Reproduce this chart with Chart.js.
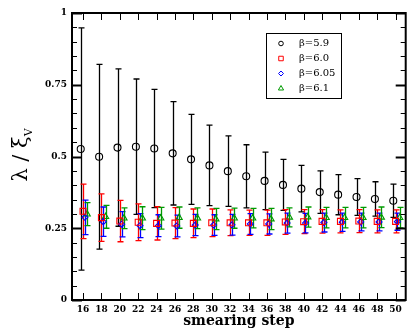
<!DOCTYPE html>
<html><head><meta charset="utf-8">
<script src="https://cdn.jsdelivr.net/npm/chart.js@4/dist/chart.umd.min.js"></script>
<style>html,body{margin:0;padding:0;background:#fff}</style>
</head><body>
<canvas id="c" width="411" height="330"></canvas>
<script>
// ---- data ----
const steps = [16,18,20,22,24,26,28,30,32,34,36,38,40,42,44,46,48,50];
const yTicks = [0,0.25,0.5,0.75,1];
const b59  = [0.526,0.499,0.531,0.534,0.528,0.511,0.490,0.469,0.449,0.431,0.415,0.401,0.388,0.376,0.367,0.359,0.352,0.346];
const e59  = [0.422,0.322,0.274,0.236,0.206,0.180,0.157,0.140,0.123,0.110,0.100,0.089,0.081,0.074,0.070,0.064,0.060,0.058];
const b60  = [0.309,0.287,0.275,0.271,0.267,0.268,0.267,0.269,0.269,0.269,0.269,0.272,0.273,0.274,0.274,0.275,0.274,0.274];
const e60  = [0.095,0.083,0.072,0.064,0.058,0.054,0.050,0.048,0.045,0.044,0.044,0.043,0.042,0.041,0.040,0.040,0.040,0.040];
const b605 = [0.288,0.273,0.264,0.259,0.259,0.258,0.261,0.261,0.262,0.265,0.265,0.268,0.268,0.270,0.271,0.272,0.272,0.273];
const e605 = [0.060,0.051,0.044,0.042,0.038,0.038,0.037,0.036,0.036,0.036,0.035,0.035,0.034,0.033,0.032,0.031,0.031,0.030];
const b61  = [0.299,0.290,0.285,0.285,0.285,0.287,0.285,0.282,0.285,0.285,0.282,0.288,0.289,0.287,0.287,0.287,0.288,0.287];
const e61  = [0.040,0.040,0.036,0.040,0.038,0.037,0.036,0.037,0.035,0.034,0.037,0.033,0.035,0.036,0.036,0.036,0.036,0.036];
const labels = ['\u03b2=5.9','\u03b2=6.0','\u03b2=6.05','\u03b2=6.1'];

function series(vals, errs, shift){ return vals.map((v,i)=>({x:steps[i]+shift, y:v, e:errs[i]})); }

const SERIF = "'DejaVu Serif', 'Liberation Serif', serif";

const errorBars = {
  id:'errorBars',
  beforeDatasetsDraw(chart){
    const {ctx, scales:{x,y}} = chart;
    chart.data.datasets.forEach(ds=>{
      ctx.save(); ctx.strokeStyle = ds.borderColor; ctx.lineWidth = 1.3;
      ds.data.forEach(p=>{
        const px = Math.round(x.getPixelForValue(p.x))+0.5;
        const yt = y.getPixelForValue(p.y+p.e), yb = y.getPixelForValue(p.y-p.e);
        ctx.beginPath();
        ctx.moveTo(px,yt); ctx.lineTo(px,yb);
        ctx.moveTo(px-3,yt); ctx.lineTo(px+3,yt);
        ctx.moveTo(px-3,yb); ctx.lineTo(px+3,yb);
        ctx.stroke();
      });
      ctx.restore();
    });
  }
};

const frame = {
  id:'frame',
  afterDraw(chart){
    const {ctx, chartArea:a, scales:{x,y}} = chart;
    ctx.save();
    ctx.strokeStyle='#000'; ctx.lineWidth=1;
    const seg=(x1,y1,x2,y2)=>{ctx.beginPath();ctx.moveTo(x1,y1);ctx.lineTo(x2,y2);ctx.stroke();};
    steps.forEach(s=>{
      const px=Math.round(x.getPixelForValue(s))+0.5;
      seg(px,a.bottom,px,a.bottom-7); seg(px,a.top,px,a.top+7);
    });
    for(let k=0;k<=20;k++){
      const v=k*0.05, py=Math.round(y.getPixelForValue(v))+0.5;
      const major = k%5===0;
      ctx.lineWidth = major?2:1;
      const L = major?10:5;
      seg(a.left,py,a.left+L,py); seg(a.right,py,a.right-L,py);
    }
    ctx.lineWidth=2;
    ctx.strokeRect(a.left,a.top,a.right-a.left,a.bottom-a.top);
    // y axis title
    ctx.fillStyle='#000';
    ctx.translate(27,155); ctx.rotate(-Math.PI/2);
    ctx.font="21px "+SERIF;
    const main='\u03bb / \u03be';
    const w=ctx.measureText(main).width;
    ctx.font="11px "+SERIF;
    const ws=ctx.measureText('V').width;
    const x0=-(w+ws)/2;
    ctx.textBaseline='alphabetic'; ctx.textAlign='left';
    ctx.font="21px "+SERIF; ctx.fillText(main,x0,0);
    ctx.font="11px "+SERIF; ctx.fillText('V',x0+w,5);
    ctx.restore();
  }
};

const legendBox = {
  id:'legendBox',
  afterDraw(chart){
    const {ctx}=chart;
    ctx.save();
    ctx.fillStyle='#fff'; ctx.fillRect(266,33,76,66);
    ctx.strokeStyle='#000'; ctx.lineWidth=1; ctx.strokeRect(266.5,33.5,75,65);
    chart.data.datasets.forEach((ds,i)=>{
      const yy=43.5+i*15;
      ctx.save();
      ctx.strokeStyle=ds.borderColor; ctx.lineWidth=1; ctx.fillStyle='rgba(0,0,0,0)';
      Chart.helpers.drawPoint(ctx,{pointStyle:ds.pointStyle,radius:ds.legendRadius,borderWidth:1},281,yy);
      ctx.restore();
      ctx.fillStyle='#000'; ctx.font="10px "+SERIF; ctx.textBaseline='middle'; ctx.textAlign='left';
      ctx.fillText(ds.label,299,yy);
    });
    ctx.restore();
  }
};

const mk = (label,data,color,style,r,lr)=>({label,data,borderColor:color,backgroundColor:'rgba(0,0,0,0)',
  pointStyle:style,pointRadius:r,pointHoverRadius:r,pointBorderWidth:1.1,showLine:false,legendRadius:lr});

new Chart(document.getElementById('c'),{
  type:'scatter',
  data:{datasets:[
    mk(labels[0],series(b59,e59,-0.25),'#000000','circle',3.5,2.3),
    mk(labels[1],series(b60,e60,0),'#ff0000','rect',4.2,3.2),
    mk(labels[2],series(b605,e605,0.2),'#0000ff','rectRot',3,2.5),
    mk(labels[3],series(b61,e61,0.45),'#009a00','triangle',3.6,3),
  ]},
  options:{
    responsive:false, animation:false, devicePixelRatio:1,
    layout:{padding:{top:13,right:1,left:0,bottom:0}},
    plugins:{legend:{display:false},tooltip:{enabled:false}},
    scales:{
      x:{type:'linear',min:14.8,max:51.1,
        afterFit(s){s.height=30;},
        afterBuildTicks(s){s.ticks=steps.map(v=>({value:v}));},
        grid:{display:false,drawTicks:false},border:{display:false},
        ticks:{padding:4,color:'#000',font:{family:SERIF,size:9,weight:'bold'},maxRotation:0,autoSkip:false,
          callback:v=>String(v)},
        title:{display:true,text:'smearing step',color:'#000',font:{family:SERIF,size:14,weight:'bold'},padding:{top:0,bottom:0}}
      },
      y:{type:'linear',min:0,max:1,
        afterFit(s){s.width=72;},
        afterBuildTicks(s){s.ticks=yTicks.map(v=>({value:v}));},
        grid:{display:false,drawTicks:false},border:{display:false},
        ticks:{padding:5,color:'#000',font:{family:SERIF,size:9,weight:'bold'},callback:v=>String(v)}
      }
    }
  },
  plugins:[errorBars,frame,legendBox]
});
</script>
</body></html>
